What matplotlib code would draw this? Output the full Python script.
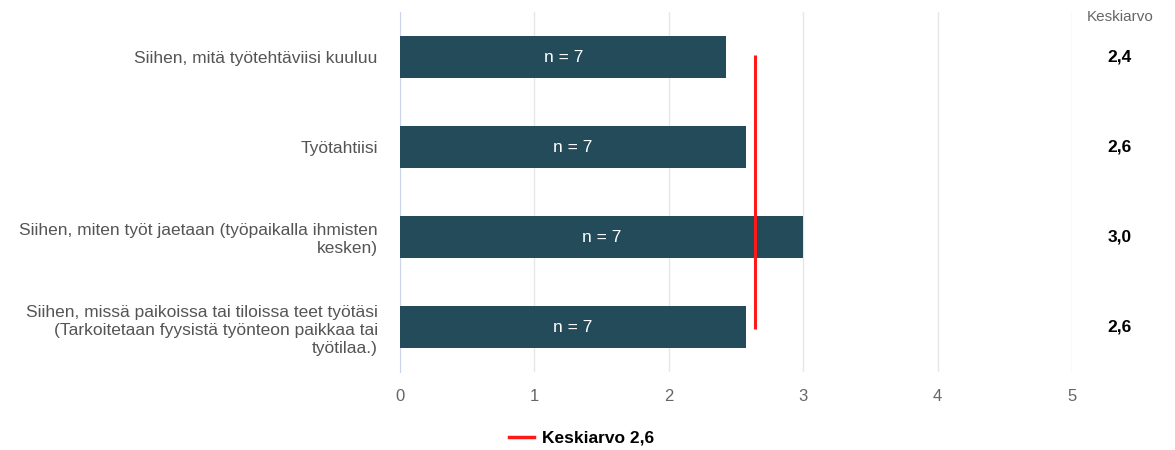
import matplotlib
matplotlib.use("Agg")
import matplotlib.pyplot as plt
from matplotlib.lines import Line2D
from matplotlib.transforms import blended_transform_factory

plt.rcParams['font.family'] = ['Liberation Sans', 'DejaVu Sans']

categories = [
    "Siihen, mitä työtehtäviisi kuuluu",
    "Työtahtiisi",
    "Siihen, miten työt jaetaan (työpaikalla ihmisten\nkesken)",
    "Siihen, missä paikoissa tai tiloissa teet työtäsi\n(Tarkoitetaan fyysistä työnteon paikkaa tai\ntyötilaa.)",
]
means = [17 / 7, 18 / 7, 21 / 7, 18 / 7]
counts = [7, 7, 7, 7]
overall_mean = sum(m * n for m, n in zip(means, counts)) / sum(counts)
x_ticks = [0, 1, 2, 3, 4, 5]

bar_color = "#234b5a"
mean_color = "#ff1a1a"


def fi(v):
    return f"{v:.1f}".replace(".", ",")


W, H = 1175, 450
fig = plt.figure(figsize=(W / 100, H / 100), dpi=100)
ax = fig.add_axes([400 / W, 1 - 372 / H, (1072 - 400) / W, (372 - 12) / H])

ypos = list(range(len(categories)))
ax.barh(ypos, means, height=0.47, color=bar_color, zorder=3)
for y, m, n in zip(ypos, means, counts):
    ax.text(m / 2, y, f"n = {n}", color="white", ha="center", va="center",
            fontsize=12.5, zorder=4)

ax.plot([overall_mean, overall_mean], [ypos[0] - 0.02, ypos[-1] + 0.02],
        color=mean_color, lw=2.2, zorder=5, solid_capstyle="butt")

ax.set_xlim(0, 5)
ax.set_ylim(len(categories) - 0.5, -0.5)
ax.set_xticks(x_ticks)
ax.set_xticklabels([str(t) for t in x_ticks], color="#666666", fontsize=12)
ax.set_yticks(ypos)
ax.set_yticklabels(categories, color="#555555", fontsize=12.5, linespacing=1.25)
ax.tick_params(axis="both", length=0)
ax.tick_params(axis="x", pad=12)
ax.tick_params(axis="y", pad=16)
ax.grid(axis="x", color="#e6e6e6", lw=1, zorder=0)
for s in ["top", "right", "bottom"]:
    ax.spines[s].set_visible(False)
ax.spines["left"].set_color("#ccd6eb")
ax.spines["left"].set_zorder(2)

# mean column on the right
col_x = 1120 / W
fig.text(col_x, 1 - 17 / H, "Keskiarvo", ha="center", va="center",
         color="#666666", fontsize=11)
col_trans = blended_transform_factory(fig.transFigure, ax.transData)
for y, m in zip(ypos, means):
    ax.text(col_x, y, fi(m), transform=col_trans, ha="center", va="center",
            fontsize=12.5, fontweight="bold", color="black")

handle = Line2D([], [], color=mean_color, lw=2.5)
fig.legend([handle], [f"Keskiarvo {fi(overall_mean)}"], loc="center",
           bbox_to_anchor=(582 / W, 1 - 438 / H), frameon=False, handlelength=1.4,
           handletextpad=0.5, prop={"weight": "bold", "size": 12.5})

fig.savefig("out.png", dpi=100)
